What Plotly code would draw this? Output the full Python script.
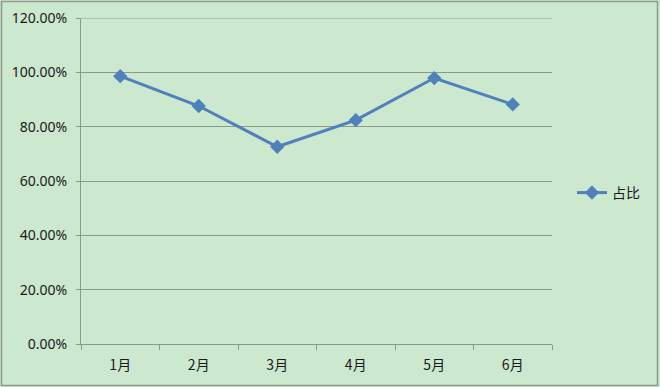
import plotly.graph_objects as go

months = ["1月", "2月", "3月", "4月", "5月", "6月"]
share = [0.986, 0.876, 0.726, 0.824, 0.979, 0.882]
series_name = "占比"
y_max = 1.2

W, H = 660, 387
L, R, T, B = 81, 108, 18, 43
pw = W - L - R
ph = H - T - B

bg = "#CCE8CF"
grid = "#8C9A88"
blue = "#4F81BD"
font_fam = "Noto Sans, Noto Sans CJK SC, sans-serif"

fig = go.Figure()
fig.add_trace(go.Scatter(
    x=months, y=share, name=series_name, mode="lines+markers",
    line=dict(color=blue, width=3),
    marker=dict(symbol="diamond", size=11, color=blue),
))

fig.update_layout(
    width=W, height=H,
    margin=dict(l=L, r=R, t=T, b=B, autoexpand=False),
    paper_bgcolor=bg, plot_bgcolor=bg,
    font=dict(family=font_fam, size=14, color="#1a1a1a"),
    showlegend=True,
    legend=dict(x=(572 - L) / pw, xanchor="left", y=(H - B - 193) / ph, yanchor="middle",
                bgcolor="rgba(0,0,0,0)", font=dict(size=14, family="Noto Sans CJK SC"),
                itemwidth=30),
    xaxis=dict(
        type="category", range=[-0.5, 5.5], automargin=False,
        showgrid=False, showline=True, linecolor=grid, linewidth=1,
        ticks="outside", tickson="boundaries", ticklen=5, tickcolor=grid,
        tickfont=dict(family="Noto Sans CJK SC", size=14),
        ticklabelstandoff=8,
        fixedrange=True,
    ),
    yaxis=dict(
        range=[0, y_max], dtick=0.2, tick0=0, tickformat=".2%", automargin=False,
        showgrid=True, gridcolor=grid, gridwidth=1,
        showline=True, linecolor=grid, linewidth=1,
        ticks="outside", ticklen=4, tickcolor=grid,
        tickfont=dict(size=14),
        ticklabelstandoff=6,
        zeroline=False, fixedrange=True,
    ),
    shapes=[
        dict(type="rect", xref="paper", yref="paper",
             x0=(1.5 - L) / pw, x1=(657.5 - L) / pw,
             y0=-(385.5 - (H - B)) / ph, y1=1 + (T - 1.5) / ph,
             line=dict(color="#8F9A8C", width=1.5), fillcolor="rgba(0,0,0,0)",
             layer="below"),
        dict(type="line", xref="paper", yref="y", x0=0, x1=1, y0=y_max, y1=y_max,
             line=dict(color=grid, width=1), layer="below"),
    ],
)

fig.write_html("out.html")
